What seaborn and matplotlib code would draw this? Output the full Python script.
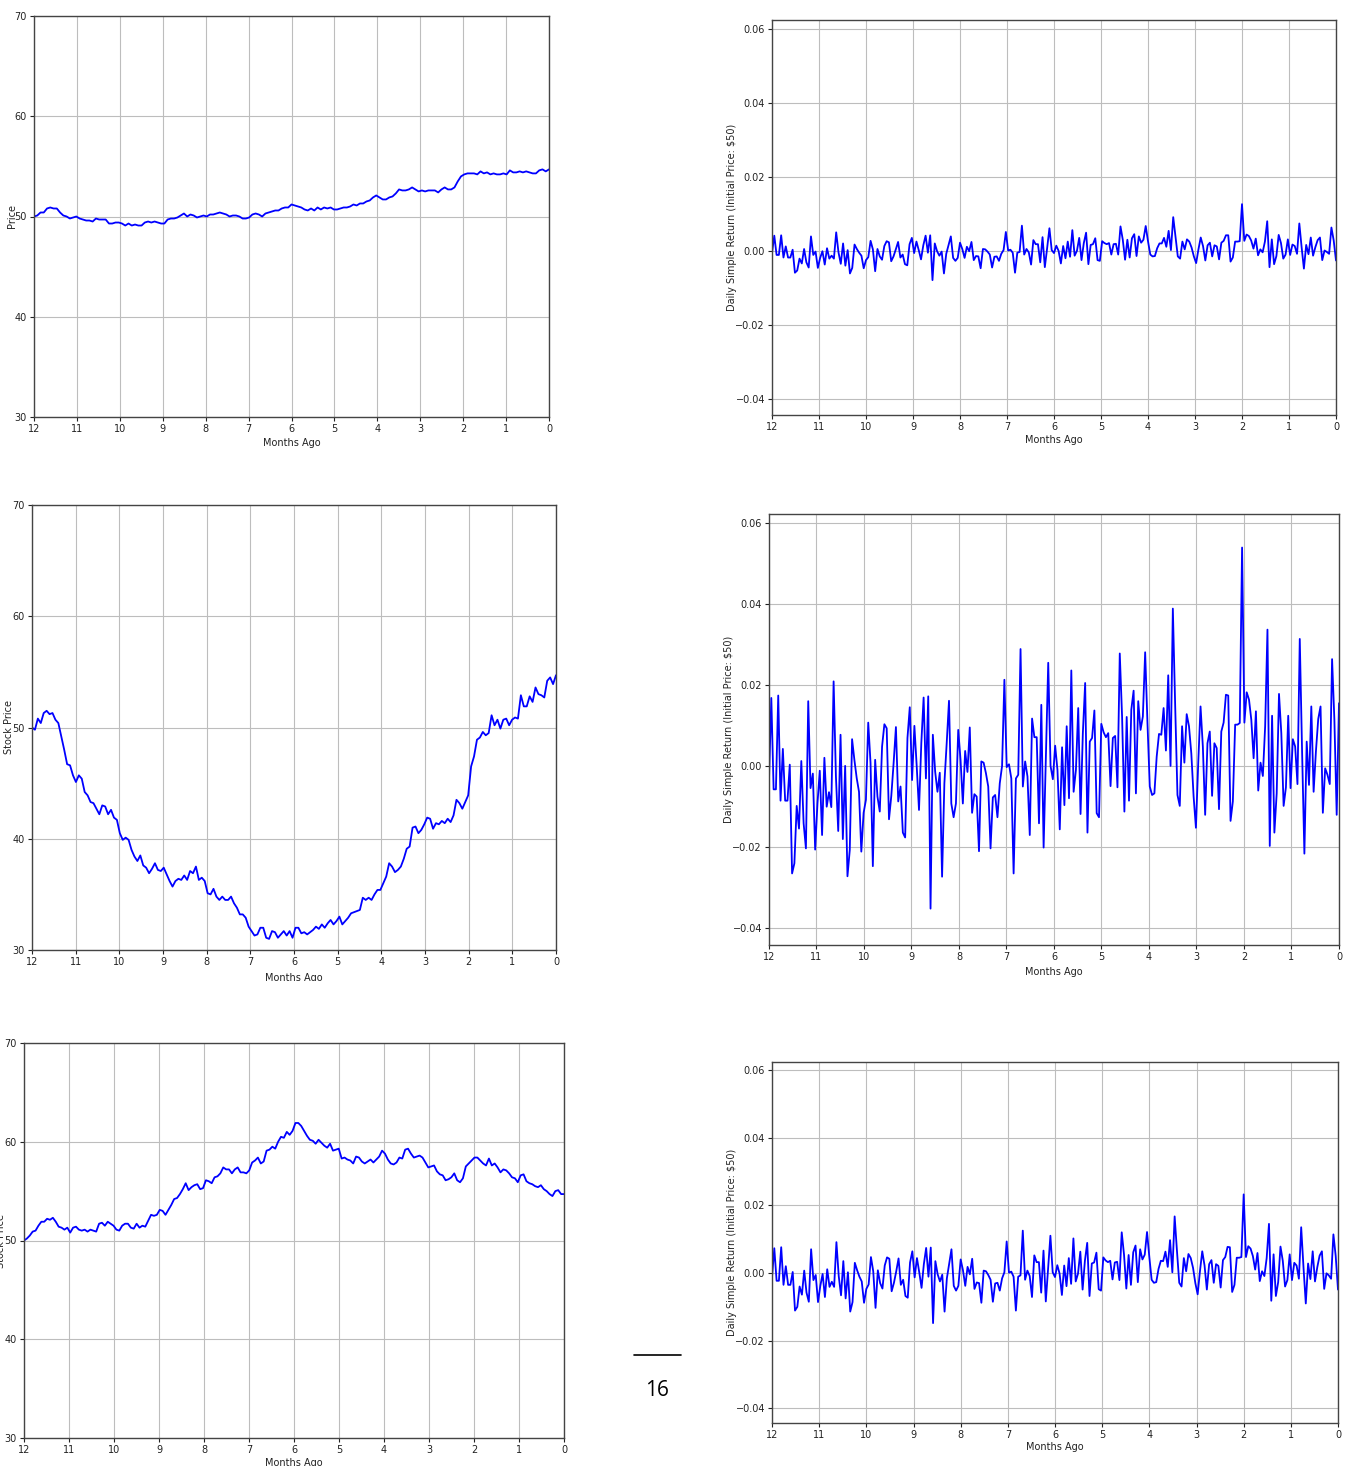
import numpy as np
import pandas as pd
import matplotlib
matplotlib.use("Agg")
import matplotlib.pyplot as plt
from matplotlib.ticker import FuncFormatter
from matplotlib.patches import Rectangle
from matplotlib.lines import Line2D
import seaborn as sns

# ---------------- data ----------------
month_ticks = list(range(12, -1, -1))
price_ticks = [30, 40, 50, 60, 70]
return_ticks = [-0.04, -0.02, 0.00, 0.02, 0.04, 0.06]

price_low_vol = [
    50.0, 50.1, 50.4, 50.4, 50.8, 50.9, 50.8, 50.8, 50.4, 50.1,
    50.0, 49.8, 49.9, 50.0, 49.8, 49.7, 49.6, 49.6, 49.5, 49.8,
    49.7, 49.7, 49.7, 49.3, 49.3, 49.4, 49.4, 49.3, 49.1, 49.3,
    49.1, 49.2, 49.1, 49.1, 49.4, 49.5, 49.4, 49.5, 49.4, 49.3,
    49.3, 49.7, 49.8, 49.8, 49.9, 50.1, 50.3, 50.0, 50.2, 50.1,
    49.9, 50.0, 50.1, 50.0, 50.2, 50.2, 50.3, 50.4, 50.3, 50.2,
    50.0, 50.1, 50.1, 50.0, 49.8, 49.8, 49.9, 50.2, 50.3, 50.2,
    50.0, 50.3, 50.4, 50.5, 50.6, 50.6, 50.8, 50.9, 50.9, 51.2,
    51.1, 51.0, 50.9, 50.7, 50.6, 50.8, 50.6, 50.9, 50.7, 50.9,
    50.8, 50.9, 50.7, 50.7, 50.8, 50.9, 50.9, 51.0, 51.2, 51.1,
    51.3, 51.3, 51.5, 51.6, 51.9, 52.1, 51.9, 51.7, 51.7, 51.9,
    52.0, 52.3, 52.7, 52.6, 52.6, 52.7, 52.9, 52.7, 52.5, 52.6,
    52.5, 52.6, 52.6, 52.6, 52.4, 52.7, 52.9, 52.7, 52.7, 52.9,
    53.5, 54.0, 54.2, 54.3, 54.3, 54.3, 54.2, 54.5, 54.3, 54.4,
    54.2, 54.3, 54.2, 54.2, 54.3, 54.2, 54.6, 54.4, 54.4, 54.5,
    54.4, 54.5, 54.4, 54.3, 54.3, 54.6, 54.7, 54.5, 54.7,
]

price_high_vol = [
    50.0, 49.8, 50.8, 50.4, 51.3, 51.5, 51.2, 51.3, 50.7, 50.4,
    49.2, 48.0, 46.7, 46.6, 45.7, 45.1, 45.7, 45.4, 44.2, 43.9,
    43.3, 43.2, 42.7, 42.2, 43.0, 42.9, 42.2, 42.6, 41.9, 41.7,
    40.5, 39.9, 40.1, 39.9, 39.0, 38.4, 38.0, 38.5, 37.6, 37.4,
    36.9, 37.3, 37.8, 37.2, 37.1, 37.4, 36.8, 36.2, 35.7, 36.2,
    36.4, 36.3, 36.7, 36.3, 37.1, 36.9, 37.5, 36.3, 36.5, 36.2,
    35.1, 35.0, 35.5, 34.8, 34.5, 34.8, 34.5, 34.5, 34.8, 34.2,
    33.8, 33.2, 33.2, 32.9, 32.1, 31.7, 31.3, 31.4, 32.0, 32.0,
    31.1, 31.0, 31.7, 31.6, 31.1, 31.4, 31.7, 31.3, 31.7, 31.1,
    32.0, 32.0,
    31.5, 31.6, 31.4, 31.6, 31.8, 32.1, 31.9, 32.3, 32.0, 32.4,
    32.7, 32.3, 32.6, 33.0, 32.3, 32.6, 32.9, 33.3, 33.4, 33.5,
    33.6, 34.7, 34.5, 34.7, 34.5, 35.0, 35.4, 35.4, 36.0, 36.6,
    37.8, 37.5, 37.0, 37.2, 37.5, 38.2, 39.1, 39.3, 41.0, 41.1,
    40.5, 40.8, 41.3, 41.9, 41.8, 40.9, 41.4, 41.3, 41.6, 41.4,
    41.8, 41.5, 42.1, 43.5, 43.2, 42.7, 43.3, 43.9,
    46.5, 47.4, 48.9, 49.1, 49.6, 49.3, 49.5, 51.1, 50.2, 50.7,
    49.9, 50.7, 50.8, 50.2, 50.7, 50.9, 50.8, 52.9, 51.9, 51.9,
    52.8, 52.3, 53.6, 53.0, 52.9, 52.7, 54.2, 54.5, 53.9, 54.7,
]

price_mid_vol = [
    50.0, 50.2, 50.5, 50.9, 51.0, 51.5, 51.9, 51.9, 52.2, 52.1,
    52.3, 51.9, 51.4, 51.3, 51.1, 51.3, 50.8, 51.3, 51.4, 51.1,
    51.0, 51.1, 50.9, 51.1, 51.0, 50.9, 51.7, 51.8, 51.5, 51.9,
    51.7, 51.5, 51.1, 51.0, 51.5, 51.7, 51.7, 51.3, 51.2, 51.7,
    51.3, 51.5, 51.4, 52.0, 52.6, 52.5, 52.6, 53.1, 53.0, 52.6,
    53.1, 53.6, 54.2, 54.3, 54.7, 55.2, 55.8, 55.1, 55.4, 55.6,
    55.7, 55.2, 55.3, 56.1, 56.0, 55.8, 56.4, 56.5, 56.8, 57.4,
    57.2, 57.2, 56.8, 57.2, 57.4, 56.9, 56.9, 56.8, 57.1, 57.9,
    58.1, 58.4, 57.8, 58.0, 59.1, 59.2, 59.5, 59.3, 60.0, 60.5,
    60.4, 61.0, 60.7, 61.1, 61.9, 61.9, 61.6,
    61.1, 60.6, 60.2, 60.1, 59.8, 60.2, 59.9, 59.6, 59.4, 59.8,
    59.1, 59.2, 59.3, 58.3, 58.4, 58.2, 58.1, 57.8, 58.5, 58.4,
    58.0, 57.8, 58.0, 58.2, 57.9, 58.2, 58.5, 59.1, 58.8, 58.2,
    57.8, 57.7, 57.9, 58.4, 58.3, 59.2, 59.3, 58.8, 58.4, 58.5,
    58.6, 58.4, 57.9, 57.4, 57.5, 57.6, 57.0, 56.7, 56.6, 56.1,
    56.2, 56.4, 56.8, 56.1, 55.9, 56.3, 57.5, 57.8, 58.1, 58.4,
    58.4, 58.1, 57.8, 57.6, 58.3, 57.6, 57.8, 57.4, 56.9, 57.2,
    57.1, 56.8, 56.4, 56.3, 55.9, 56.6, 56.7, 56.0, 55.8, 55.7,
    55.5, 55.4, 55.6, 55.2, 55.0, 54.7, 54.5, 55.0, 55.1, 54.7,
    54.7,
]

returns_high_vol = [
    -0.0035, 0.0168, -0.0058, -0.0058, 0.0174, -0.0086, 0.0042, -0.0086, -0.0086, 0.0003,
    -0.0266, -0.0241, -0.0099, -0.0155, 0.0012, -0.0142, -0.0204, 0.0160, -0.0055, -0.0019,
    -0.0207, -0.0093, -0.0012, -0.0171, 0.0020, -0.0101, -0.0065, -0.0102, 0.0209, -0.0026,
    -0.0161, 0.0077, -0.0181, 0.0000, -0.0273, -0.0208, 0.0066, 0.0015, -0.0030, -0.0064,
    -0.0212, -0.0116, -0.0084, 0.0107, 0.0007, -0.0248, 0.0015, -0.0076, -0.0113, 0.0048,
    0.0103, 0.0093, -0.0132, -0.0074, 0.0007, 0.0096, -0.0088, -0.0051, -0.0165, -0.0177,
    0.0069, 0.0145, -0.0035, 0.0099, 0.0000, -0.0109, 0.0056, 0.0169, -0.0031, 0.0172,
    -0.0353, 0.0077, -0.0014, -0.0064, -0.0017, -0.0274, -0.0043, 0.0056, 0.0161, -0.0093,
    -0.0127, -0.0093, 0.0089, 0.0015, -0.0093, 0.0037, -0.0015, 0.0095, -0.0116, -0.0070,
    -0.0076, -0.0211, 0.0011, 0.0008, -0.0018, -0.0051, -0.0204, -0.0078, -0.0072, -0.0127,
    -0.0043, 0.0000, 0.0213, -0.0003, 0.0004, -0.0031, -0.0266, -0.0031, -0.0022, 0.0289,
    -0.0051, 0.0011, -0.0026, -0.0171, 0.0117, 0.0071, 0.0071, -0.0142, 0.0151, -0.0202,
    0.0023, 0.0255, 0.0000, -0.0033, 0.0050, -0.0010, -0.0157, 0.0046, -0.0097, 0.0098,
    -0.0080, 0.0236, -0.0064, -0.0010, 0.0143, -0.0119, 0.0081, 0.0205, -0.0165, 0.0060,
    0.0069, 0.0137, -0.0117, -0.0127, 0.0104, 0.0083, 0.0071, 0.0081, -0.0050, 0.0069,
    0.0074, -0.0053, 0.0278, 0.0122, -0.0113, 0.0121, -0.0086, 0.0139, 0.0186, -0.0068,
    0.0160, 0.0089, 0.0122, 0.0281, 0.0106, -0.0051, -0.0072, -0.0068, 0.0023, 0.0079,
    0.0077, 0.0143, 0.0038, 0.0224, 0.0000, 0.0389, 0.0151, -0.0072, -0.0099, 0.0098,
    0.0008, 0.0128, 0.0098, 0.0031, -0.0076, -0.0153, 0.0007, 0.0147, 0.0048, -0.0121,
    0.0056, 0.0085, -0.0074, 0.0056, 0.0044, -0.0107, 0.0085, 0.0107, 0.0176, 0.0174,
    -0.0136, -0.0088, 0.0102, 0.0102, 0.0106, 0.0540, 0.0107, 0.0182, 0.0164, 0.0114,
    0.0019, 0.0135, -0.0061, 0.0008, -0.0025, 0.0098, 0.0337, -0.0198, 0.0124, -0.0165,
    -0.0068, 0.0178, 0.0081, -0.0099, -0.0053, 0.0124, -0.0055, 0.0066, 0.0048, -0.0045,
    0.0314, 0.0036, -0.0217, 0.0060, -0.0047, 0.0147, -0.0064, 0.0036, 0.0116, 0.0147,
    -0.0116, -0.0006, -0.0022, -0.0045, 0.0264, 0.0114, -0.0121, 0.0155,
]

returns_low_vol = [
    -0.0006, 0.0041, -0.0011, -0.0011, 0.0042, -0.0018, 0.0012, -0.0018, -0.0018, 0.0003,
    -0.0059, -0.0053, -0.0021, -0.0034, 0.0005, -0.0031, -0.0045, 0.0039, -0.0011, -0.0002,
    -0.0046, -0.0019, -0.0001, -0.0037, 0.0007, -0.0021, -0.0013, -0.0021, 0.0050, -0.0004,
    -0.0035, 0.0020, -0.0040, 0.0002, -0.0061, -0.0046, 0.0017, 0.0005, -0.0005, -0.0013,
    -0.0047, -0.0025, -0.0017, 0.0027, 0.0004, -0.0055, 0.0005, -0.0015, -0.0024, 0.0013,
    0.0026, 0.0023, -0.0028, -0.0015, 0.0004, 0.0024, -0.0018, -0.0010, -0.0036, -0.0039,
    0.0018, 0.0035, -0.0006, 0.0025, 0.0002, -0.0023, 0.0015, 0.0041, -0.0005, 0.0042,
    -0.0079, 0.0020, -0.0001, -0.0013, -0.0002, -0.0061, -0.0008, 0.0015, 0.0039, -0.0019,
    -0.0027, -0.0019, 0.0022, 0.0005, -0.0019, 0.0011, -0.0001, 0.0024, -0.0025, -0.0014,
    -0.0015, -0.0047, 0.0005, 0.0004, -0.0002, -0.0010, -0.0045, -0.0016, -0.0015, -0.0027,
    -0.0008, 0.0002, 0.0051, 0.0001, 0.0003, -0.0005, -0.0059, -0.0005, -0.0003, 0.0068,
    -0.0010, 0.0005, -0.0004, -0.0037, 0.0029, 0.0018, 0.0018, -0.0031, 0.0037, -0.0044,
    0.0007, 0.0061, 0.0002, -0.0006, 0.0014, 0.0000, -0.0034, 0.0013, -0.0020, 0.0025,
    -0.0016, 0.0056, -0.0013, 0.0000, 0.0035, -0.0025, 0.0021, 0.0049, -0.0036, 0.0016,
    0.0018, 0.0034, -0.0025, -0.0027, 0.0026, 0.0021, 0.0018, 0.0021, -0.0010, 0.0018,
    0.0019, -0.0010, 0.0066, 0.0030, -0.0024, 0.0030, -0.0018, 0.0034, 0.0045, -0.0014,
    0.0039, 0.0022, 0.0030, 0.0067, 0.0026, -0.0010, -0.0015, -0.0014, 0.0007, 0.0020,
    0.0020, 0.0035, 0.0011, 0.0054, 0.0002, 0.0091, 0.0037, -0.0015, -0.0021, 0.0025,
    0.0004, 0.0031, 0.0025, 0.0009, -0.0015, -0.0033, 0.0004, 0.0036, 0.0013, -0.0026,
    0.0015, 0.0022, -0.0015, 0.0015, 0.0012, -0.0023, 0.0022, 0.0027, 0.0042, 0.0042,
    -0.0029, -0.0018, 0.0025, 0.0025, 0.0026, 0.0126, 0.0027, 0.0044, 0.0040, 0.0028,
    0.0006, 0.0033, -0.0012, 0.0004, -0.0004, 0.0025, 0.0080, -0.0044, 0.0031, -0.0036,
    -0.0014, 0.0043, 0.0021, -0.0021, -0.0010, 0.0031, -0.0011, 0.0017, 0.0013, -0.0008,
    0.0074, 0.0010, -0.0048, 0.0016, -0.0009, 0.0036, -0.0013, 0.0010, 0.0029, 0.0036,
    -0.0025, 0.0001, -0.0003, -0.0008, 0.0063, 0.0028, -0.0026,
]

returns_mid_vol = [
    -0.0013, 0.0073, -0.0023, -0.0023, 0.0076, -0.0035, 0.0020, -0.0035, -0.0035, 0.0003,
    -0.0111, -0.0100, -0.0040, -0.0064, 0.0007, -0.0058, -0.0085, 0.0070, -0.0021, -0.0006,
    -0.0086, -0.0038, -0.0003, -0.0071, 0.0011, -0.0041, -0.0026, -0.0041, 0.0091, -0.0009,
    -0.0066, 0.0035, -0.0075, 0.0002, -0.0114, -0.0086, 0.0030, 0.0008, -0.0011, -0.0025,
    -0.0088, -0.0047, -0.0034, 0.0047, 0.0005, -0.0103, 0.0008, -0.0030, -0.0046, 0.0022,
    0.0046, 0.0042, -0.0054, -0.0029, 0.0005, 0.0043, -0.0035, -0.0020, -0.0068, -0.0073,
    0.0031, 0.0064, -0.0013, 0.0044, 0.0002, -0.0044, 0.0026, 0.0074, -0.0011, 0.0075,
    -0.0148, 0.0035, -0.0004, -0.0025, -0.0005, -0.0114, -0.0016, 0.0026, 0.0070, -0.0038,
    -0.0052, -0.0038, 0.0040, 0.0008, -0.0038, 0.0018, -0.0004, 0.0042, -0.0047, -0.0028,
    -0.0030, -0.0088, 0.0007, 0.0005, -0.0006, -0.0020, -0.0085, -0.0031, -0.0029, -0.0052,
    -0.0016, 0.0002, 0.0093, 0.0001, 0.0004, -0.0011, -0.0111, -0.0011, -0.0007, 0.0125,
    -0.0020, 0.0007, -0.0009, -0.0071, 0.0052, 0.0032, 0.0032, -0.0058, 0.0066, -0.0084,
    0.0012, 0.0110, 0.0002, -0.0012, 0.0023, -0.0002, -0.0065, 0.0022, -0.0039, 0.0044,
    -0.0032, 0.0102, -0.0025, -0.0002, 0.0063, -0.0049, 0.0036, 0.0089, -0.0068, 0.0028,
    0.0031, 0.0060, -0.0048, -0.0052, 0.0046, 0.0037, 0.0032, 0.0036, -0.0019, 0.0031,
    0.0033, -0.0021, 0.0120, 0.0054, -0.0046, 0.0053, -0.0035, 0.0061, 0.0081, -0.0027,
    0.0070, 0.0040, 0.0054, 0.0121, 0.0047, -0.0020, -0.0029, -0.0027, 0.0012, 0.0036,
    0.0035, 0.0063, 0.0018, 0.0097, 0.0002, 0.0167, 0.0066, -0.0029, -0.0040, 0.0044,
    0.0005, 0.0056, 0.0044, 0.0015, -0.0030, -0.0063, 0.0005, 0.0064, 0.0022, -0.0049,
    0.0026, 0.0038, -0.0029, 0.0026, 0.0021, -0.0043, 0.0038, 0.0047, 0.0077, 0.0076,
    -0.0056, -0.0035, 0.0045, 0.0045, 0.0047, 0.0232, 0.0047, 0.0079, 0.0072, 0.0050,
    0.0010, 0.0059, -0.0024, 0.0005, -0.0009, 0.0044, 0.0145, -0.0082, 0.0055, -0.0068,
    -0.0027, 0.0078, 0.0036, -0.0040, -0.0021, 0.0055, -0.0021, 0.0030, 0.0022, -0.0017,
    0.0135, 0.0017, -0.0090, 0.0028, -0.0018, 0.0064, -0.0025, 0.0017, 0.0051, 0.0064,
    -0.0047, -0.0001, -0.0007, -0.0017, 0.0114, 0.0050, -0.0049,
]

price_labels = ["Price", "Stock Price", "Stock Price"]
return_label = "Daily Simple Return (Initial Price: $50)"
x_label = "Months Ago"
page_number = "16"

# ---------------- style ----------------
sns.set_theme(style="whitegrid")
plt.rcParams.update({
    "font.family": ["DejaVu Sans"],
    "axes.edgecolor": "#444444",
    "axes.linewidth": 1.0,
    "grid.color": "#bdbdbd",
    "grid.linewidth": 0.8,
    "xtick.bottom": True,
    "ytick.left": True,
    "xtick.major.size": 3,
    "ytick.major.size": 3,
    "xtick.major.width": 0.8,
    "ytick.major.width": 0.8,
    "xtick.color": "#222222",
    "ytick.color": "#222222",
    "xtick.labelsize": 7,
    "ytick.labelsize": 7,
    "xtick.major.pad": 2,
    "ytick.major.pad": 2,
    "axes.labelsize": 7,
    "axes.labelcolor": "#222222",
})

W, H = 1351, 1466
fig = plt.figure(figsize=(W / 100, H / 100), dpi=100)
fig.patch.set_facecolor("white")


def px_axes(x0, y0, x1, y1):
    return fig.add_axes([x0 / W, 1 - y1 / H, (x1 - x0) / W, (y1 - y0) / H])


def ret_fmt(v, _):
    s = f"{v:.2f}"
    if s == "-0.00":
        s = "0.00"
    return s.replace("-", "\u2212")


def draw(ax, values, kind, ylabel, box, ylabel_px, xlabel_px):
    x0, y0, x1, y1 = box
    n = len(values)
    df = pd.DataFrame({"months": np.linspace(12, 0, n), "value": values})
    sns.lineplot(data=df, x="months", y="value", ax=ax, color="#0000ff",
                 linewidth=1.3, estimator=None, sort=False)
    ax.set_xlim(12, 0)
    ax.set_xticks(month_ticks)
    ax.set_xticklabels([str(m) for m in month_ticks])
    if kind == "price":
        ax.set_ylim(30, 70)
        ax.set_yticks(price_ticks)
        ax.set_yticklabels([str(t) for t in price_ticks])
    else:
        ax.set_ylim(-0.0443, 0.0623)
        ax.set_yticks(return_ticks)
        ax.yaxis.set_major_formatter(FuncFormatter(ret_fmt))
    ax.set_xlabel(x_label)
    ax.set_ylabel(ylabel)
    # label centres measured on the page (pixels) -> axes fractions
    ax.yaxis.set_label_coords((ylabel_px - x0) / (x1 - x0), 0.5)
    ax.xaxis.set_label_coords(0.5, -(xlabel_px - y1) / (y1 - y0))
    ax.xaxis.label.set_va("center")
    ax.yaxis.label.set_va("center")
    for s in ax.spines.values():
        s.set_visible(True)
        s.set_color("#444444")
    ax.grid(True)
    ax.set_facecolor("white")


box1 = (34, 16, 549, 417)
ax1 = px_axes(*box1)
draw(ax1, price_low_vol, "price", price_labels[0], box1, 12, 443)
box2 = (772, 20, 1336, 415)
ax2 = px_axes(*box2)
draw(ax2, returns_low_vol, "ret", return_label, box2, 732, 440)

box3 = (32, 505, 556, 950)
ax3 = px_axes(*box3)
draw(ax3, price_high_vol, "price", price_labels[1], box3, 9, 978)
box4 = (769, 514, 1339, 945)
ax4 = px_axes(*box4)
draw(ax4, returns_high_vol, "ret", return_label, box4, 729, 972)

box5 = (24, 1043, 564, 1438)
ax5 = px_axes(*box5)
draw(ax5, price_mid_vol, "price", price_labels[2], box5, 1, 1463)
box6 = (772, 1062, 1338, 1423)
ax6 = px_axes(*box6)
draw(ax6, returns_mid_vol, "ret", return_label, box6, 732, 1447)

# the screenshot crops the x label of the middle-left chart
fig.patches.append(Rectangle((0, 1 - 1000 / H), 600 / W, 19 / H,
                             transform=fig.transFigure, facecolor="white",
                             edgecolor="none", zorder=10))

# page-number decoration
fig.add_artist(Line2D([634 / W, 681 / W], [1 - 1355 / H, 1 - 1355 / H],
                      transform=fig.transFigure, color="black", linewidth=1.2))
fig.text(657 / W, 1 - 1390 / H, page_number, ha="center", va="center",
         fontsize=15, family=["Open Sans", "DejaVu Sans"], color="black")

fig.savefig("out.png", dpi=100, facecolor="white")
